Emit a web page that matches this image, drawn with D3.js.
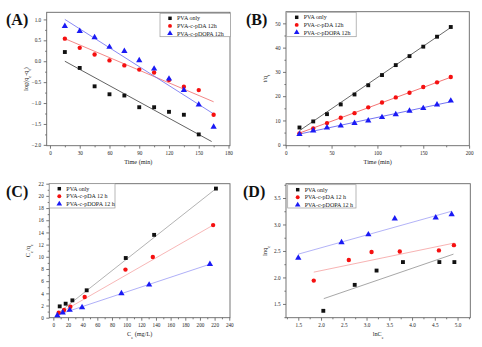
<!DOCTYPE html>
<html><head><meta charset="utf-8">
<script src="https://cdn.jsdelivr.net/npm/d3@7"></script>
<style>
body{margin:0;background:#fff}
svg text{font-family:"Liberation Serif","Times New Roman",serif;fill:#222}
</style>
</head><body>
<svg id="chart" width="482" height="347"></svg>
<script>
const namesAB = ["PVA only", "PVA-c-pDA 12h", "PVA-c-pDOPA 12h"];
const namesCD = ["PVA only", "PVA-c-pDA 12 h", "PVA-c-pDOPA 12 h"];

// (A) log(qe-qt) vs time
const timeA = [15, 30, 45, 60, 75, 90, 105, 120, 135, 150, 165];
const aPVA   = [0.22, -0.16, -0.60, -0.79, -0.82, -1.10, -1.10, -1.21, -1.28, -1.75];
const aPDA   = [0.54, 0.32, 0.16, 0.02, -0.10, -0.20, -0.27, -0.45, -0.61, -0.69, -1.28];
const aPDOPA = [0.84, 0.72, 0.57, 0.34, 0.24, 0.02, -0.18, -0.42, -0.69, -1.04, -1.57];
const fitA = [[15, 0.0, 163, -1.92], [15, 0.54, 165, -0.97], [15, 1.0, 165, -1.26]];

// (B) t/qt vs time
const timeB = [15, 30, 45, 60, 75, 90, 105, 120, 135, 150, 165, 180];
const bPVA   = [7.1, 9.6, 12.6, 16.6, 20.7, 24.5, 28.7, 32.8, 36.5, 40.4, 44.5, 48.5];
const bPDA   = [4.7, 6.7, 8.9, 11.1, 13.0, 15.4, 17.4, 19.5, 21.4, 23.8, 25.7, 27.9];
const bPDOPA = [4.3, 5.8, 7.0, 7.8, 8.9, 9.9, 11.3, 12.5, 13.9, 15.0, 16.5, 18.1];
const fitB = [[15, 5.8, 180, 48.3], [15, 4.8, 180, 27.8], [15, 4.4, 180, 17.7]];

// (C) Ce/qe vs Ce
const cePVA   = [8.7, 16.8, 26, 45.5, 98.8, 137.5, 221.8];
const cPVA    = [1.86, 2.3, 2.85, 4.5, 9.8, 13.6, 21.2];
const cePDA   = [7.3, 14.6, 23.2, 42.8, 98.4, 135.7, 218];
const cPDA    = [0.82, 1.26, 1.8, 3.4, 7.9, 9.96, 15.2];
const cePDOPA = [5.5, 12.8, 22.3, 39.2, 92.9, 130.7, 213.6];
const cPDOPA  = [0.38, 0.82, 1.26, 1.7, 4.0, 5.4, 8.8];
const fitC = [[5, 0.6, 222, 21.2], [5, 0.5, 218, 15.2], [4, 0.4, 214, 8.8]];

// (D) lnqe vs lnCe
const lnPVA   = [2.05, 2.74, 3.22, 3.80, 4.60, 4.93];
const dPVA    = [1.37, 1.86, 2.13, 2.29, 2.29, 2.29];
const lnPDA   = [1.84, 2.61, 3.11, 3.73, 4.59, 4.92];
const dPDA    = [1.94, 2.33, 2.48, 2.49, 2.51, 2.61];
const lnPDOPA = [1.50, 2.45, 3.04, 3.62, 4.52, 4.87];
const dPDOPA  = [2.37, 2.66, 2.81, 3.11, 3.13, 3.19];
const fitD = [[2.06, 1.60, 4.91, 2.44], [1.84, 2.10, 4.93, 2.65], [1.5, 2.44, 4.87, 3.25]];

const markColors = ["#111", "#f51010", "#1a1af5"];
const symbols = [d3.symbolSquare, d3.symbolCircle, d3.symbolTriangle];
const symSize = [15, 15, 17];

const svg = d3.select("#chart");

function zip(xs, ys) { return ys.map((y, i) => [xs[i], y]); }

function drawPanel(p) {
  const x = d3.scaleLinear().domain(p.xDomain).range([p.box[0], p.box[1]]);
  const y = d3.scaleLinear().domain(p.yDomain).range([p.box[3], p.box[2]]);
  const g = svg.append("g");

  // minor ticks
  g.append("g").attr("transform", `translate(0,${p.box[3]})`)
    .call(d3.axisBottom(x).tickValues(p.xMinor).tickSize(1.6).tickFormat("").tickSizeOuter(0));
  g.append("g").attr("transform", `translate(${p.box[0]},0)`)
    .call(d3.axisLeft(y).tickValues(p.yMinor).tickSize(1.6).tickFormat("").tickSizeOuter(0));
  // major ticks
  const xa = g.append("g").attr("transform", `translate(0,${p.box[3]})`)
    .call(d3.axisBottom(x).tickValues(p.xTicks).tickSize(3).tickPadding(2.5)
      .tickFormat(p.xFmt).tickSizeOuter(0));
  const ya = g.append("g").attr("transform", `translate(${p.box[0]},0)`)
    .call(d3.axisLeft(y).tickValues(p.yTicks).tickSize(3).tickPadding(2.5)
      .tickFormat(p.yFmt).tickSizeOuter(0));
  g.selectAll(".domain").remove();
  g.selectAll(".tick line").attr("stroke", "#555").attr("stroke-width", 0.8);
  g.selectAll(".tick text").attr("font-size", 5.2).attr("fill", "#333")
    .style("font-family", '"Liberation Serif",serif');

  // frame
  g.append("rect")
    .attr("x", p.box[0]).attr("y", p.box[2])
    .attr("width", p.box[1] - p.box[0]).attr("height", p.box[3] - p.box[2])
    .attr("fill", "none").attr("stroke", "#666").attr("stroke-width", 0.9);

  // fit lines
  g.selectAll(".fit").data(p.fits).enter().append("line")
    .attr("x1", d => x(d[0])).attr("y1", d => y(d[1]))
    .attr("x2", d => x(d[2])).attr("y2", d => y(d[3]))
    .attr("stroke", (d, i) => p.lineColors[i]).attr("stroke-width", 0.8);

  // points
  p.series.forEach((s, i) => {
    g.append("g").selectAll("path").data(s).enter().append("path")
      .attr("d", d3.symbol().type(symbols[i]).size(symSize[i]))
      .attr("transform", d => `translate(${x(d[0])},${y(d[1])})`)
      .attr("fill", markColors[i]);
  });

  // legend
  const L = p.legend;
  g.append("rect").attr("x", L.x).attr("y", L.y).attr("width", L.w).attr("height", L.h)
    .attr("fill", "#fff").attr("stroke", "#999").attr("stroke-width", 0.7);
  p.names.forEach((n, i) => {
    const yy = L.y + 5 + i * 7.6;
    g.append("path").attr("d", d3.symbol().type(symbols[i]).size(symSize[i] * 0.8))
      .attr("transform", `translate(${L.x + 10},${yy})`).attr("fill", markColors[i]);
    g.append("text").attr("x", L.x + 17).attr("y", yy + 2).attr("font-size", 6).text(n);
  });

  // titles
  g.append("text").attr("x", (p.box[0] + p.box[1]) / 2).attr("y", p.box[3] + 18)
    .attr("text-anchor", "middle").attr("font-size", 6.2).html(p.xTitle);
  g.append("text").attr("transform", `translate(${p.box[0] - 19},${(p.box[2] + p.box[3]) / 2}) rotate(-90)`)
    .attr("text-anchor", "middle").attr("font-size", 6.2).html(p.yTitle);
  g.append("text").attr("x", p.label[0]).attr("y", p.label[1]).attr("font-size", 16)
    .attr("font-weight", "bold").style("fill", "#111").text(p.labelText);
}

const f1 = d3.format(".1f");
const sub = t => `<tspan baseline-shift="sub" font-size="4.5">${t}</tspan>`;

drawPanel({
  box: [46.7, 230, 12.3, 145.7], xDomain: [-3.3, 181.5], yDomain: [-2.02, 1.17],
  xTicks: d3.range(0, 181, 30), xMinor: d3.range(15, 181, 30), xFmt: d3.format("d"),
  yTicks: d3.range(-2, 1.01, 0.5), yMinor: d3.range(-1.75, 1.1, 0.5), yFmt: f1,
  series: [zip(timeA, aPVA), zip(timeA, aPDA), zip(timeA, aPDOPA)], fits: fitA,
  lineColors: ["#3a3a3a", "#f06a6a", "#6a6af0"],
  names: namesAB, legend: {x: 160, y: 13.3, w: 70.5, h: 23.4},
  xTitle: "Time (min)", yTitle: `log(q${sub("e")}-q${sub("t")})`,
  label: [6, 25], labelText: "(A)"
});

drawPanel({
  box: [286, 469.3, 11.7, 145.7], xDomain: [0.3, 200.2], yDomain: [-0.4, 54.8],
  xTicks: d3.range(0, 201, 50), xMinor: d3.range(25, 201, 50), xFmt: d3.format("d"),
  yTicks: d3.range(0, 51, 10), yMinor: d3.range(5, 55, 10), yFmt: d3.format("d"),
  series: [zip(timeB, bPVA), zip(timeB, bPDA), zip(timeB, bPDOPA)], fits: fitB,
  lineColors: ["#444", "#f05050", "#5050f0"],
  names: namesAB, legend: {x: 286.7, y: 12.3, w: 69.5, h: 24.4},
  xTitle: "Time (min)", yTitle: `t/q${sub("t")}`,
  label: [246, 25], labelText: "(B)"
});

drawPanel({
  box: [49.3, 230, 183.7, 317.7], xDomain: [-5.5, 241], yDomain: [0, 22],
  xTicks: d3.range(0, 241, 20), xMinor: d3.range(10, 241, 20), xFmt: d3.format("d"),
  yTicks: d3.range(0, 23, 2), yMinor: d3.range(1, 22, 2), yFmt: d3.format("d"),
  series: [zip(cePVA, cPVA), zip(cePDA, cPDA), zip(cePDOPA, cPDOPA)], fits: fitC,
  lineColors: ["#a0a0a0", "#f5a5a5", "#9a9af5"],
  names: namesCD, legend: {x: 49.3, y: 183.7, w: 65.7, h: 24.3},
  xTitle: `C${sub("e")} (mg/L)`, yTitle: `C${sub("e")}/q${sub("e")}`,
  label: [6, 197], labelText: "(C)"
});

drawPanel({
  box: [286, 470.3, 183.7, 317.7], xDomain: [1.23, 5.28], yDomain: [1.24, 3.77],
  xTicks: d3.range(1.5, 5.01, 0.5), xMinor: d3.range(1.25, 5.26, 0.5), xFmt: f1,
  yTicks: d3.range(1.5, 3.51, 0.5), yMinor: d3.range(1.25, 3.76, 0.5), yFmt: f1,
  series: [zip(lnPVA, dPVA), zip(lnPDA, dPDA), zip(lnPDOPA, dPDOPA)], fits: fitD,
  lineColors: ["#909090", "#f5a0a0", "#a0a0f5"],
  names: namesCD, legend: {x: 287.7, y: 184.7, w: 68.3, h: 23.3},
  xTitle: `lnC${sub("e")}`, yTitle: `lnq${sub("e")}`,
  label: [243, 197], labelText: "(D)"
});
</script>
</body></html>
